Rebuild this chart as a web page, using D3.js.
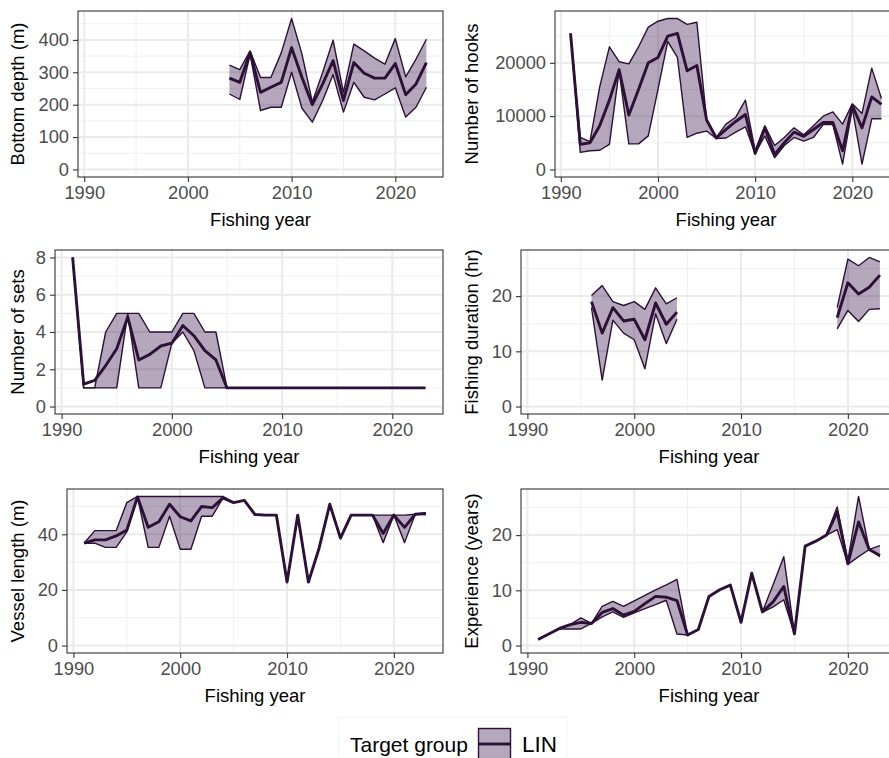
<!DOCTYPE html>
<html>
<head>
<meta charset="utf-8">
<script src="https://cdn.jsdelivr.net/npm/d3@7"></script>
<style>
  body { margin: 0; background: #fff; }
  svg { display: block; font-family: "Liberation Sans", Arial, sans-serif; }
</style>
</head>
<body>
<svg id="chart" width="889" height="758"></svg>
<script>
// fishing years shared by every panel
const years = [1991,1992,1993,1994,1995,1996,1997,1998,1999,2000,2001,2002,2003,2004,2005,2006,2007,2008,2009,2010,2011,2012,2013,2014,2015,2016,2017,2018,2019,2020,2021,2022,2023];
const xTicks = [1990, 2000, 2010, 2020];
const xMinor = [1995, 2005, 2015];

const depthMean = [null,null,null,null,null,null,null,null,null,null,null,null,null,282,269,361,238,254,269,376,284,200,264,336,213,330,297,282,282,327,231,264,330];
const depthHi   = [null,null,null,null,null,null,null,null,null,null,null,null,null,322,308,366,284,284,360,466,356,208,300,399,238,387,366,344,325,404,286,341,402];
const depthLo   = [null,null,null,null,null,null,null,null,null,null,null,null,null,233,216,356,182,192,192,300,189,146,213,293,177,269,223,215,233,252,162,192,254];

const hooksMean = [25500,4700,5000,8200,13000,18700,10200,15000,20000,21000,25000,25500,18500,19500,9300,5900,7500,9000,10300,3000,7800,2800,5000,7000,6200,7500,8800,8800,3500,12000,7800,13600,12200];
const hooksHi   = [25500,6000,5200,15500,23000,20200,19800,23000,26700,27800,28300,28300,27200,27600,9300,6000,8500,9800,13000,3500,8200,4500,6000,7800,6500,8200,10000,10800,8500,12300,10500,19000,13300];
const hooksLo   = [25500,3200,3500,3600,4700,18500,4800,4800,6300,15000,24000,21000,6000,6800,7200,5800,5900,7000,8000,3000,6300,2200,4500,6000,5300,6000,8400,8400,1000,11500,1000,9500,9500];

const setsMean = [8,1.2,1.4,2.2,3.1,4.8,2.5,2.8,3.25,3.4,4.35,3.8,3.0,2.5,1,1,1,1,1,1,1,1,1,1,1,1,1,1,1,1,1,1,1];
const setsHi   = [8,1,1,4,5,5,5,4,4,4,5,5,4,4,1,1,1,1,1,1,1,1,1,1,1,1,1,1,1,1,1,1,1];
const setsLo   = [8,1,1,1,1,5,1,1,1,3.4,4,3,1,1,1,1,1,1,1,1,1,1,1,1,1,1,1,1,1,1,1,1,1];

const durMean = [null,null,null,null,null,19.0,13.3,17.9,15.5,15.8,12.1,18.75,14.9,17.1,null,null,null,null,null,null,null,null,null,null,null,null,null,null,16.1,22.4,20.4,21.6,23.8];
const durHi   = [null,null,null,null,null,20.1,21.9,19.0,18.3,19.0,17.6,21.5,18.6,19.7,null,null,null,null,null,null,null,null,null,null,null,null,null,null,17.9,26.7,25.5,27.0,26.2];
const durLo   = [null,null,null,null,null,17.9,4.8,15.65,13.3,12.1,6.85,16.8,11.4,15.8,null,null,null,null,null,null,null,null,null,null,null,null,null,null,14.05,17.4,15.4,17.6,17.7];

const vesMean = [36.8,38,38,39.4,41.5,53.4,42.5,44.5,50.8,46.3,44.8,50,49.6,53.1,51.4,52.2,47.1,46.9,46.9,22.8,46.9,22.8,35,50.8,38.6,46.9,46.9,46.9,40.3,46.9,42.5,47.2,47.5];
const vesHi   = [36.8,41.3,41.3,41.3,51.4,53.6,53.6,53.6,53.6,53.6,53.6,53.6,53.6,53.6,51.4,52.2,47.1,46.9,46.9,22.8,46.9,22.8,35,50.8,38.6,46.9,46.9,46.9,46.9,46.9,46.9,47.2,47.8];
const vesLo   = [36.8,36.8,35.3,35.3,40.9,53.4,35.3,35.3,46.5,34.6,34.6,46.5,46.5,53.1,51.4,52.2,47.1,46.9,46.9,22.8,46.9,22.8,35,50.8,38.6,46.9,46.9,46.9,37,46.9,37,47.2,47];

const expMean = [1.1,2.1,3.1,3.8,4.2,4,6,6.7,5.5,6.2,7.6,8.9,8.75,8.15,1.9,2.9,8.9,10.1,10.95,4.2,13.1,6.1,7.9,10.7,2.1,18,18.9,20,24.2,14.8,22.4,17.4,16.3];
const expHi   = [1.1,2.1,3.1,3.8,5,4,7.1,8,7.1,8.1,9.1,10.1,11,12,1.9,2.9,8.9,10.1,10.95,4.2,13.1,6.1,11,16.1,2.1,18,18.9,20,25.1,15.3,27,17.4,18.1];
const expLo   = [1.1,2.1,3,3,3,4,5.2,6.1,5.1,5.9,6.7,7.4,8.2,2.1,1.9,2.9,8.9,10.1,10.95,4.2,13.1,6,7,8.3,2.1,18,18.9,20,21,14.7,16.1,17.4,16.1];

const lineCol = '#2d1038';
const fillCol = '#2b0540';

let svg = d3.select('#chart');

const panels = [
    {title: 'Bottom depth (m)', mean: depthMean, hi: depthHi, lo: depthLo, ticks: [0,100,200,300,400], box: [78, 443, 11, 177], titleX: 18},
    {title: 'Number of hooks', mean: hooksMean, hi: hooksHi, lo: hooksLo, ticks: [0,10000,20000], box: [555, 897, 11, 177], titleX: 472},
    {title: 'Number of sets', mean: setsMean, hi: setsHi, lo: setsLo, ticks: [0,2,4,6,8], box: [55, 443, 250, 414], titleX: 18},
    {title: 'Fishing duration (hr)', mean: durMean, hi: durHi, lo: durLo, ticks: [0,10,20], box: [521, 897, 250, 414], titleX: 472},
    {title: 'Vessel length (m)', mean: vesMean, hi: vesHi, lo: vesLo, ticks: [0,20,40], box: [67, 443, 489, 653], titleX: 18},
    {title: 'Experience (years)', mean: expMean, hi: expHi, lo: expLo, ticks: [0,10,20], box: [521, 897, 489, 653], titleX: 472}
];

const drawPanel = function(p) {
    let [x0, x1, y0, y1] = p.box;
    let g = svg.append('g');

    let xExt = d3.extent(years);
    let xPad = (xExt[1] - xExt[0]) * 0.05;
    let x = d3.scaleLinear().domain([xExt[0] - xPad, xExt[1] + xPad]).range([x0, x1]);

    let all = p.hi.concat(p.lo, p.mean).filter(function(v) {return v != null});
    let yMax = d3.max(all);
    let yMin = Math.min(0, d3.min(all));
    let yPad = (yMax - yMin) * 0.05;
    let y = d3.scaleLinear().domain([yMin - yPad, yMax + yPad]).range([y1, y0]);

    // minor grid
    let step = p.ticks[1] - p.ticks[0];
    let yMinor = p.ticks.map(function(t) {return t + step / 2}).filter(function(t) {return y(t) > y0});
    g.selectAll('.ymin').data(yMinor).enter().append('line')
        .attr('x1', x0).attr('x2', x1).attr('y1', d => y(d)).attr('y2', d => y(d))
        .attr('stroke', '#f0f0f0').attr('stroke-width', 1);
    g.selectAll('.xmin').data(xMinor).enter().append('line')
        .attr('x1', d => x(d)).attr('x2', d => x(d)).attr('y1', y0).attr('y2', y1)
        .attr('stroke', '#f0f0f0').attr('stroke-width', 1);
    // major grid
    g.selectAll('.ymaj').data(p.ticks).enter().append('line')
        .attr('x1', x0).attr('x2', x1).attr('y1', d => y(d)).attr('y2', d => y(d))
        .attr('stroke', '#ebebeb').attr('stroke-width', 2);
    g.selectAll('.xmaj').data(xTicks).enter().append('line')
        .attr('x1', d => x(d)).attr('x2', d => x(d)).attr('y1', y0).attr('y2', y1)
        .attr('stroke', '#ebebeb').attr('stroke-width', 2);

    let rows = years.map(function(yr, i) {return {year: yr, mean: p.mean[i], hi: p.hi[i], lo: p.lo[i]}});

    let area = d3.area()
        .defined(d => d.hi != null && d.lo != null)
        .x(d => x(d.year)).y0(d => y(d.lo)).y1(d => y(d.hi));
    g.append('path').datum(rows).attr('d', area)
        .attr('fill', fillCol).attr('fill-opacity', 0.35);

    ['hi', 'lo'].forEach(function(k) {
        let ln = d3.line().defined(d => d[k] != null).x(d => x(d.year)).y(d => y(d[k]));
        g.append('path').datum(rows).attr('d', ln)
            .attr('fill', 'none').attr('stroke', lineCol).attr('stroke-width', 1.4)
            .attr('stroke-linejoin', 'round');
    });

    let meanLine = d3.line().defined(d => d.mean != null).x(d => x(d.year)).y(d => y(d.mean));
    g.append('path').datum(rows).attr('d', meanLine)
        .attr('fill', 'none').attr('stroke', lineCol).attr('stroke-width', 2.9)
        .attr('stroke-linejoin', 'round');

    g.append('rect').attr('x', x0).attr('y', y0).attr('width', x1 - x0).attr('height', y1 - y0)
        .attr('fill', 'none').attr('stroke', '#333333').attr('stroke-width', 1.1);

    let xAxis = g.append('g').attr('transform', 'translate(0,' + y1 + ')')
        .call(d3.axisBottom(x).tickValues(xTicks).tickFormat(d3.format('d')).tickSize(5).tickPadding(4));
    let yAxis = g.append('g').attr('transform', 'translate(' + x0 + ',0)')
        .call(d3.axisLeft(y).tickValues(p.ticks).tickFormat(d3.format('d')).tickSize(5).tickPadding(4));
    [xAxis, yAxis].forEach(function(a) {
        a.select('.domain').remove();
        a.selectAll('line').attr('stroke', '#333333').attr('stroke-width', 1.1);
        a.selectAll('text').attr('fill', '#4d4d4d').style('font-size', '18.3px')
            .style('font-family', '"Liberation Sans", Arial, sans-serif');
    });

    g.append('text').attr('x', (x0 + Math.min(x1, 897)) / 2).attr('y', y1 + 49)
        .attr('text-anchor', 'middle').style('font-size', '18.5px').attr('fill', '#000')
        .text('Fishing year');
    g.append('text').attr('transform', 'translate(' + p.titleX + ',' + (y0 + y1) / 2 + ') rotate(-90)')
        .attr('text-anchor', 'middle').attr('dy', '0.35em').style('font-size', '18.5px').attr('fill', '#000')
        .text(p.title);
};

panels.forEach(drawPanel);

// legend
let legend = svg.append('g');
legend.append('rect').attr('x', 339).attr('y', 717).attr('width', 228).attr('height', 60)
    .attr('fill', '#fff').attr('stroke', '#f4f4f4').attr('stroke-width', 1);
legend.append('text').attr('x', 350).attr('y', 751.5).style('font-size', '21px').attr('fill', '#000')
    .text('Target group');
legend.append('rect').attr('x', 478.5).attr('y', 728.5).attr('width', 32).attr('height', 32)
    .attr('fill', fillCol).attr('fill-opacity', 0.35).attr('stroke', lineCol).attr('stroke-width', 1.4);
legend.append('line').attr('x1', 479).attr('x2', 510).attr('y1', 744).attr('y2', 744)
    .attr('stroke', lineCol).attr('stroke-width', 2.9);
legend.append('text').attr('x', 522).attr('y', 751.5).style('font-size', '22.5px').attr('fill', '#000')
    .text('LIN');
</script>
</body>
</html>
